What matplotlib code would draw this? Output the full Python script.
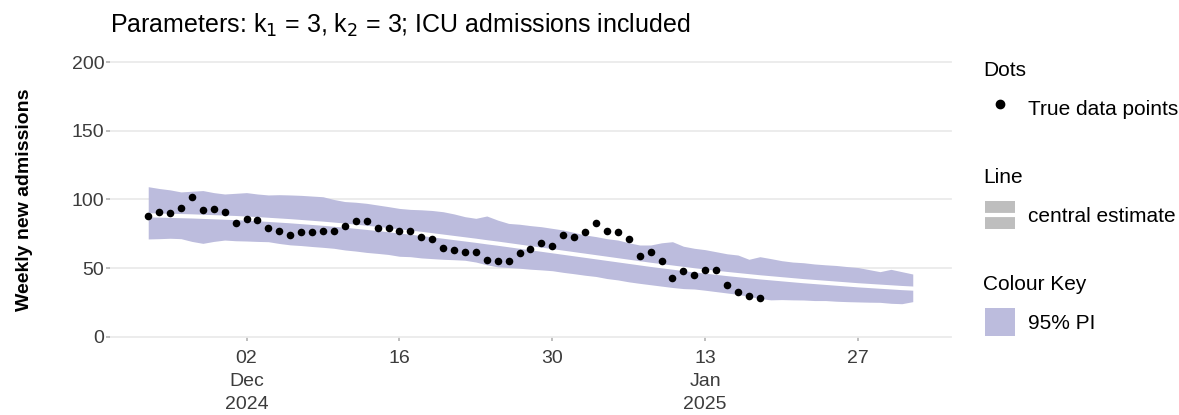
import numpy as np
import pandas as pd
import matplotlib
matplotlib.use('Agg')
import matplotlib.pyplot as plt
from matplotlib.lines import Line2D
from matplotlib.patches import Patch, Rectangle

plt.rcParams['font.family'] = ['Liberation Sans', 'DejaVu Sans']

# data
start_date = '2024-11-23'
true_points = [88, 91, 90, 94, 102, 92, 93, 91, 83, 86,
               85, 79, 77, 74, 76, 76, 77, 77, 81, 84,
               84, 79, 79, 77, 77, 73, 71, 65, 63, 62,
               62, 56, 55, 55, 61, 64, 68, 66, 74, 73,
               76, 83, 77, 76, 71, 59, 62, 55, 43, 48,
               45, 49, 49, 38, 33, 30, 28]
central = [88.5, 88.3, 88.1, 87.9, 87.7, 87.4, 87.1, 86.8, 86.5, 86.1,
           85.7, 85.2, 84.7, 84.2, 83.6, 83.0, 82.4, 81.7, 81.0, 80.2,
           79.4, 78.6, 77.7, 76.8, 75.9, 75.0, 74.0, 73.0, 72.0, 71.0,
           70.0, 68.9, 67.9, 66.8, 65.7, 64.6, 63.5, 62.4, 61.3, 60.2,
           59.1, 58.0, 56.9, 55.8, 54.7, 53.6, 52.5, 51.5, 50.5, 49.5,
           48.5, 47.6, 46.7, 45.8, 45.0, 44.2, 43.4, 42.7, 42.0, 41.3,
           40.6, 40.0, 39.4, 38.8, 38.2, 37.6, 37.1, 36.6, 36.1, 35.6,
           35.2]
pi_upper = [109.3, 108, 107, 105.5, 106, 106.5, 105, 104, 104.5, 105,
            104, 103.3, 103.5, 103.3, 103, 102.5, 102, 100, 98.5, 98,
            97.2, 96, 94.8, 93.5, 92.8, 92.5, 92, 91.1, 89.5, 87.5,
            86.3, 88, 85, 82.6, 82, 81, 80.2, 79, 77.8, 76,
            74.2, 73, 71.5, 70.5, 68.5, 66.9, 66.9, 68.5, 69.3, 66,
            64.5, 63.5, 62, 60.5, 59.6, 56.5, 58.4, 57, 55.5, 54.5,
            54, 53.1, 52.5, 52, 51.2, 50.5, 49, 47.5, 49.2, 47.5,
            45.8]
pi_lower = [71.3, 71.5, 71.8, 71.5, 69.5, 68.1, 69.5, 70.5, 70, 69.8,
            69.5, 69.3, 68, 67, 66.5, 65.8, 65.2, 64.5, 63.3, 62.5,
            61.5, 60.8, 60, 58.7, 58.4, 57.5, 57, 56.5, 56.2, 55.8,
            54.5, 52.5, 51, 50.5, 50, 49.3, 48.8, 48.2, 47, 46,
            44.9, 44, 42.5, 41.5, 40.1, 39, 38, 37, 36, 35.2,
            34.9, 34, 33, 32, 31, 29.5, 28, 27, 27.2, 27,
            26.9, 26.5, 26.5, 26, 25.7, 25.5, 25.3, 25.2, 24.5, 24.2,
            25.7]
tick_dates = ['2024-12-02', '2024-12-16', '2024-12-30', '2025-01-13', '2025-01-27']
tick_labels = ['02\nDec\n2024', '16', '30', '13\nJan\n2025', '27']
y_ticks = [0, 50, 100, 150, 200]

band_col = '#BCBCDD'
text_col = '#3C3C3C'


class KeyLineHandler:
    # grey key box with a white line through it (ggplot style key)
    def legend_artist(self, legend, orig_handle, fontsize, handlebox):
        x0, y0 = -handlebox.xdescent, -handlebox.ydescent
        w, h = handlebox.width, handlebox.height
        tr = handlebox.get_transform()
        box = Rectangle((x0, y0), w, h, facecolor='#BEBEBE', edgecolor='none', transform=tr)
        line = Line2D([x0, x0 + w], [y0 + h / 2, y0 + h / 2], color='white', lw=3, transform=tr)
        handlebox.add_artist(box)
        handlebox.add_artist(line)
        return box


obs_dates = pd.date_range(start_date, periods=len(true_points), freq='D')
fit_dates = pd.date_range(start_date, periods=len(central), freq='D')

fig = plt.figure(figsize=(11.79, 4.15), dpi=100)
ax = fig.add_axes([0.0933, 0.188, 0.7133, 0.6626])

ax.fill_between(fit_dates, pi_lower, pi_upper, color=band_col, lw=0, zorder=2)
ax.plot(fit_dates, central, color='white', lw=3, zorder=3)
ax.scatter(obs_dates, true_points, s=30, color='black', lw=0, zorder=4)

pad = pd.Timedelta(days=3.5)
ax.set_xlim(fit_dates[0] - pad, fit_dates[-1] + pad)
ax.set_ylim(0, 200)
ax.set_yticks(y_ticks)
ax.set_xticks(pd.to_datetime(tick_dates))
ax.set_xticklabels(tick_labels, linespacing=1.45)
ax.tick_params(axis='both', colors='#B3B3B3', labelcolor=text_col,
               labelsize=14, length=3, width=1.2)
ax.tick_params(axis='x', pad=6.5)
ax.tick_params(axis='y', pad=1)
ax.grid(axis='y', color='#EBEBEB', lw=1.3, zorder=0)
for g in ax.get_ygridlines():
    g.set_clip_on(False)
ax.set_axisbelow(True)
for s in ax.spines.values():
    s.set_visible(False)

ax.set_ylabel('Weekly new admissions', fontsize=14, fontweight='bold')
ax.yaxis.set_label_coords(-0.092, 0.5)
fig.text(0.0933, 0.94, 'Parameters: k$_1$ = 3, k$_2$ = 3; ICU admissions included',
         fontsize=18, va='center', ha='left')

# legends: titles as text, keys as title-less legends
leg_x = 0.8355
title_x = 0.8338
leg_kw = dict(loc='center left', frameon=False, fontsize=15,
              handlelength=1.45, handleheight=1.75,
              handletextpad=0.6, borderpad=0, borderaxespad=0)
fig.text(title_x, 0.8313, 'Dots', fontsize=15, va='center', ha='left')
fig.text(title_x, 0.5711, 'Line', fontsize=15, va='center', ha='left')
fig.text(title_x, 0.3133, 'Colour Key', fontsize=15, va='center', ha='left')

h_dot = Line2D([], [], marker='o', color='black', ls='', markersize=6)
fig.legend([h_dot], ['True data points'], bbox_to_anchor=(leg_x, 0.7398), **leg_kw)
h_line = Line2D([], [], color='white')
fig.legend([h_line], ['central estimate'], bbox_to_anchor=(leg_x, 0.4819),
           handler_map={h_line: KeyLineHandler()}, **leg_kw)
h_band = Patch(facecolor=band_col, edgecolor='none')
fig.legend([h_band], ['95% PI'], bbox_to_anchor=(leg_x, 0.2241), **leg_kw)

plt.savefig('out.png', dpi=100)
